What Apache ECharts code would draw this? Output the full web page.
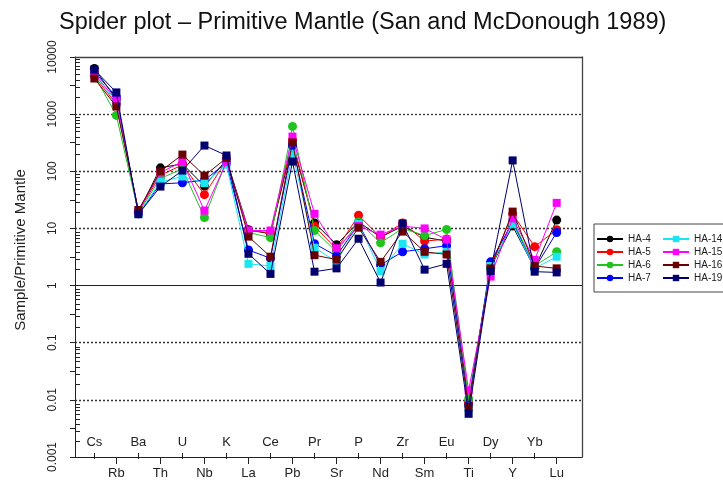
<!DOCTYPE html>
<html>
<head>
<meta charset="utf-8">
<script src="https://cdn.jsdelivr.net/npm/echarts@6/dist/echarts.min.js"></script>
<style>
  html, body { margin: 0; padding: 0; background: #fff; }
  #chart { width: 723px; height: 480px; }
</style>
</head>
<body>
<div id="chart"></div>
<script>
// Element order along the spider diagram
const elements = ['Cs','Rb','Ba','Th','U','Nb','K','La','Ce','Pb','Pr','Sr','P','Nd','Zr','Sm','Eu','Ti','Dy','Y','Yb','Lu'];

// Primitive-mantle normalised concentrations per sample
const ha4  = [6300, 1800, 19,   115, 135, 55,  160, 9.5, 8.0, 300, 12.5, 5.2, 13,   7.0,  11,   7.0, 6.0, 0.0080, 2.1,  11,   2.0,  14];
const ha5  = [4600, 1500, 20,   85,  130, 39,  155, 9.0, 8.5, 350, 11,   4.3, 17,   7.0,  12.5, 6.0, 6.5, 0.0090, 2.2,  18,   4.8,  9.5];
const ha6  = [4800, 950,  19,   75,  110, 15.5,150, 8.5, 6.9, 610, 9.2,  3.9, 13,   5.6,  10,   7.5, 9.6, 0.0105, 2.0,  14,   2.2,  3.9];
const ha7  = [5500, 2000, 18,   60,  63,  70,  140, 4.2, 3.0, 280, 5.4,  3.3, 12,   2.3,  3.9,  4.4, 5.0, 0.0080, 2.6,  13,   2.0,  8.5];
const ha14 = [5000, 1600, 18,   65,  81,  62,  130, 2.4, 2.2, 204, 4.6,  2.6, 12,   1.8,  5.4,  3.5, 3.9, 0.0070, 2.2,  12,   2.0,  3.2];
const ha15 = [5100, 1740, 20,   95,  148, 20.5,145, 9.2, 9.2, 405, 18,   4.5, 11,   7.8,  11,   10,  6.4, 0.0146, 1.44, 15,   2.8,  28];
const ha16 = [4200, 1360, 21,   100, 196, 84,  170, 7.2, 3.2, 320, 3.4,  2.85,10.3, 2.6,  8.8,  3.9, 3.5, 0.0075, 2.0,  19.7, 2.2,  2.0];
const ha19 = [6000, 2400, 17.7, 54,  103, 282, 189, 3.6, 1.6, 148, 1.75, 2.0, 6.6,  1.13, 12.2, 1.9, 2.4, 0.0057, 1.8,  155,  1.75, 1.7];

const sampleNames = ['HA-4','HA-5','HA-6','HA-7','HA-14','HA-15','HA-16','HA-19'];
const sampleData = [ha4, ha5, ha6, ha7, ha14, ha15, ha16, ha19];
const sampleColors = ['#000000','#ff0000','#1fc41f','#0000ff','#19e6f0','#ff00ff','#6a0000','#000070'];
const sampleSymbols = ['circle','circle','circle','circle','rect','rect','rect','rect'];

// Axis tick values
const decadeTicks = [0.001, 0.01, 0.1, 1, 10, 100, 1000, 10000];
const reference1 = [1];
const dottedLevels = [0.01, 0.1, 10, 100, 1000];

const FONT = 'Liberation Sans, Arial, sans-serif';
const X_MIN = -0.88, X_MAX = 22.15;

const oddIdx = elements.map((_, i) => i).filter(i => i % 2 === 1);
const evenIdx = elements.map((_, i) => i).filter(i => i % 2 === 0);

// half-decade outer ticks and 2..9 inner minor ticks on the log axis
const halfTicks = [];
const minorTicks = [];
for (let e = -3; e < 4; e++) {
  halfTicks.push(Math.sqrt(10) * Math.pow(10, e));
  for (let m = 2; m <= 9; m++) minorTicks.push(m * Math.pow(10, e));
}

const fmtNum = v => {
  const p = Math.round(Math.log10(v));
  return p >= 0 ? String(Math.pow(10, p)) : '0.' + '0'.repeat(-p - 1) + '1';
};

const gridBox = { left: 75, top: 57, right: 141, bottom: 21 };

const series = sampleNames.map((name, k) => ({
  name,
  type: 'line',
  xAxisIndex: 0,
  yAxisIndex: 0,
  data: sampleData[k].map((v, i) => [i, v]),
  symbol: sampleSymbols[k],
  symbolSize: sampleSymbols[k] === 'circle' ? 9 : 8,
  lineStyle: { color: sampleColors[k], width: 1 },
  itemStyle: { color: sampleColors[k] },
  emphasis: { disabled: true },
  animation: false,
  z: 3 + k
}));

// reference levels: dotted decades plus solid line at unity
series.unshift({
  name: 'levels',
  type: 'line',
  xAxisIndex: 0,
  yAxisIndex: 0,
  data: [],
  silent: true,
  animation: false,
  markLine: {
    silent: true,
    symbol: 'none',
    label: { show: false },
    animation: false,
    data: dottedLevels.map(v => ({ yAxis: v, lineStyle: { color: '#333', width: 1.3, type: [2, 2] } }))
      .concat(reference1.map(v => ({ yAxis: v, lineStyle: { color: '#222', width: 1, type: 'solid' } })))
  },
  z: 1
});

const chart = echarts.init(document.getElementById('chart'), null, { renderer: 'canvas' });
chart.setOption({
  backgroundColor: '#ffffff',
  animation: false,
  textStyle: { fontFamily: FONT },
  title: {
    text: 'Spider plot – Primitive Mantle (San and McDonough 1989)',
    left: 54,
    top: 6,
    textStyle: { fontSize: 23.5, fontWeight: 'normal', color: '#111', fontFamily: FONT }
  },
  grid: [
    Object.assign({}, gridBox),
    Object.assign({}, gridBox)
  ],
  xAxis: [
    { // lower labels (odd elements), ticks outward
      type: 'value', gridIndex: 0, position: 'bottom', min: X_MIN, max: X_MAX,
      axisLine: { onZero: false, lineStyle: { color: '#222', width: 1 } },
      axisTick: { customValues: oddIdx, length: 7, lineStyle: { color: '#222' } },
      axisLabel: { customValues: oddIdx, formatter: v => elements[Math.round(v)], margin: 10, fontSize: 13, color: '#222', fontFamily: FONT },
      splitLine: { show: false }
    },
    { // top frame line
      type: 'value', gridIndex: 0, position: 'top', min: X_MIN, max: X_MAX,
      axisLine: { onZero: false, lineStyle: { color: '#444', width: 1.3 } },
      axisTick: { show: false }, axisLabel: { show: false }, splitLine: { show: false }
    },
    { // upper labels (even elements), ticks inward
      type: 'value', gridIndex: 1, position: 'bottom', min: X_MIN, max: X_MAX,
      axisLine: { show: false, onZero: false },
      axisTick: { customValues: evenIdx, inside: true, length: 6, lineStyle: { color: '#222' } },
      axisLabel: { customValues: evenIdx, inside: true, formatter: v => elements[Math.round(v)], margin: 10, fontSize: 13, color: '#222', fontFamily: FONT },
      splitLine: { show: false }
    }
  ],
  yAxis: [
    {
      type: 'log', gridIndex: 0, position: 'left', min: 0.001, max: 10000, logBase: 10,
      name: 'Sample/Primitive Mantle', nameLocation: 'middle', nameGap: 47,
      nameTextStyle: { fontSize: 15, color: '#222', fontFamily: FONT, padding: [0, 0, 0, 14] },
      axisLine: { onZero: false, lineStyle: { color: '#222', width: 1 } },
      axisTick: { customValues: decadeTicks.concat(halfTicks), length: 5, lineStyle: { color: '#222' } },
      axisLabel: { rotate: 90, formatter: fmtNum, fontSize: 12, color: '#222', margin: 16, fontFamily: FONT },
      splitLine: { show: false }
    },
    { // right frame line
      type: 'log', gridIndex: 0, position: 'right', min: 0.001, max: 10000, logBase: 10,
      axisLine: { onZero: false, lineStyle: { color: '#444', width: 1.3 } },
      axisTick: { show: false }, axisLabel: { show: false }, splitLine: { show: false }
    },
    { // inner minor ticks
      type: 'log', gridIndex: 1, position: 'left', min: 0.001, max: 10000, logBase: 10,
      axisLine: { show: false, onZero: false },
      axisTick: { customValues: minorTicks, inside: true, length: 5, lineStyle: { color: '#222' } },
      axisLabel: { show: false }, splitLine: { show: false }
    }
  ],
  legend: [
    {
      data: sampleNames.slice(0, 4), orient: 'vertical', left: 596, top: 234,
      itemWidth: 26, itemHeight: 8, itemGap: 3, padding: 0,
      textStyle: { fontSize: 10, color: '#222', fontFamily: FONT }
    },
    {
      data: sampleNames.slice(4), orient: 'vertical', left: 662, top: 234,
      itemWidth: 26, itemHeight: 8, itemGap: 3, padding: 0,
      textStyle: { fontSize: 10, color: '#222', fontFamily: FONT }
    }
  ],
  graphic: [
    { type: 'rect', shape: { x: 594, y: 224, width: 140, height: 68 }, style: { fill: 'none', stroke: '#444', lineWidth: 1 }, silent: true }
  ],
  series
});
</script>
</body>
</html>
